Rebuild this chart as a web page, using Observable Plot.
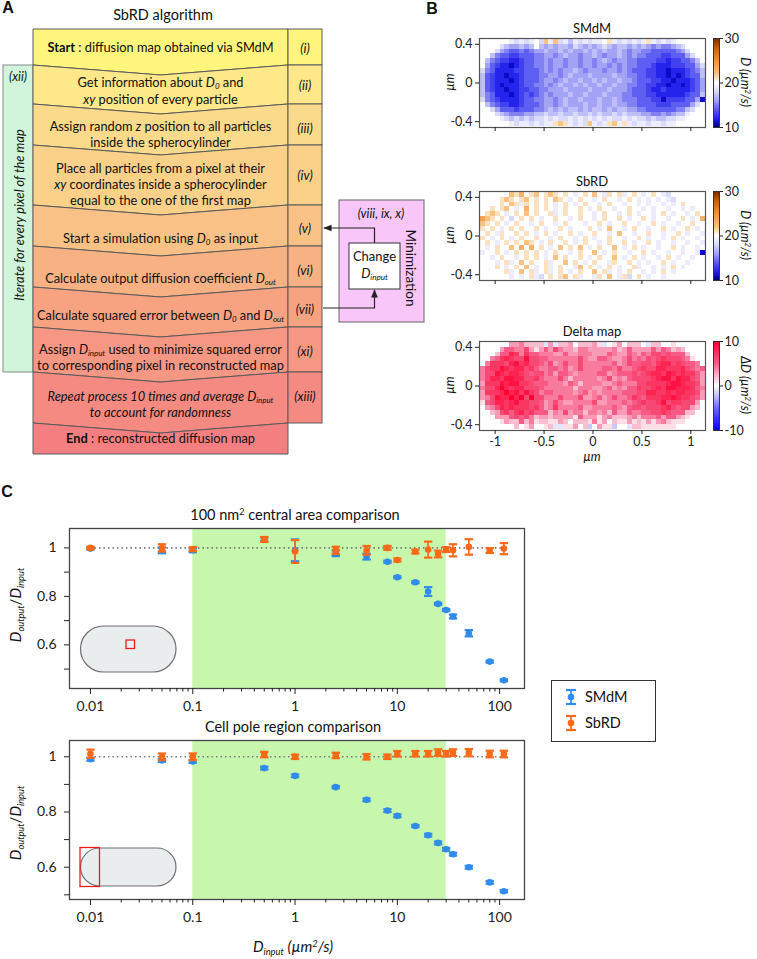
<!DOCTYPE html>
<html><head><meta charset="utf-8">
<script src="https://cdn.jsdelivr.net/npm/d3@7"></script>
<script src="https://cdn.jsdelivr.net/npm/@observablehq/plot@0.6"></script>
<style>
body{margin:0;background:#fff;font-family:Lato,"Open Sans",sans-serif;color:#111}
#page{position:relative;width:757px;height:959px;overflow:hidden;background:#fff}
.abs{position:absolute;white-space:nowrap;line-height:1}
sub{font-size:62%;font-style:italic;vertical-align:-0.35em;line-height:0}
sup{font-size:62%;vertical-align:0.5em;line-height:0}
</style></head><body><div id="page"></div>
<script>
// ---------------- DATA ----------------
// Panel C: input diffusion coefficients (µm²/s)
const dInput = [0.01,0.05,0.1,0.5,1,2.5,5,8,10,15,20,25,30,35,50,80,110];
// 100 nm² central area comparison
const smdmCentral    = [0.997,0.99,0.99,1.035,0.99,0.978,0.964,0.943,0.879,0.858,0.82,0.769,0.744,0.717,0.648,0.531,0.454];
const smdmCentralErr = [0.004,0.012,0.008,0.008,0.045,0.012,0.012,0.004,0.004,0.004,0.018,0.004,0.004,0.008,0.013,0.004,0.004];
const sbrdCentral    = [1.0,1.0,0.995,1.035,0.985,0.99,0.99,1.0,0.95,0.985,0.993,0.975,0.993,0.99,1.004,0.989,0.997];
const sbrdCentralErr = [0.005,0.015,0.008,0.01,0.047,0.015,0.018,0.008,0.006,0.008,0.033,0.014,0.01,0.025,0.032,0.01,0.023];
// Cell pole region comparison
const smdmPole    = [0.991,0.987,0.983,0.959,0.931,0.890,0.844,0.805,0.786,0.749,0.716,0.688,0.665,0.647,0.600,0.545,0.513];
const smdmPoleErr = [0.005,0.005,0.005,0.005,0.005,0.004,0.005,0.005,0.005,0.004,0.005,0.005,0.005,0.005,0.005,0.005,0.004];
const sbrdPole    = [1.011,1.0,1.0,1.008,1.0,1.005,1.0,1.0,1.011,1.011,1.011,1.015,1.011,1.015,1.015,1.01,1.01];
const sbrdPoleErr = [0.015,0.012,0.012,0.01,0.008,0.01,0.01,0.008,0.01,0.01,0.01,0.012,0.01,0.012,0.013,0.012,0.012];
const greenBand = [0.1, 30];
const xTickLabels = [0.01,0.1,1,10,100];
const yTicksC = [0.5,0.6,0.7,0.8,0.9,1];
const yTickLabelsC = [0.6,0.8,1];
const seriesNames = ["SMdM","SbRD"];

// Panel B maps: one char per 0.05 µm pixel, value = base36(char) + 10 µm²/s, "." = outside cell
const smdmMap = [
"...... 98989a8c9c 897989899a b9898989b9 8989 ......",
".... 8766767a76 7677687676 7876776767 65655678 ....",
"... 8654454566 7667676676 7676676566 5544444568 ...",
".. 7544334445 5665676656 6765667656 5544433444 68 ..",
". 7543322344 5565665665 6656765665 5444433233 4457 .",
"a643221234 4556566566 5665665656 5544432223 334468",
"8542222334 4456565667 6566656656 5444332212 223457",
"7432212234 4455665676 6676666766 5544332212 123447",
"7432221234 4456656766 7667676676 6544433221 222346",
"7432122234 4556567667 6766766766 5544332212 212346",
"7432212233 4455666766 6676667666 5444322322 222346",
"7542221234 3456566676 6766676665 5444332222 223447",
"8543222234 4556656766 7666766765 5544433133 334461",
". 7543322344 4566567666 7667667665 5444433344 4468 .",
".. 8644434445 5676767767 6776767766 5544444455 78 ..",
"... 8765556677 8778778778 7877878777 6655656779 ...",
".... 9878787889 8988989898 9898898988 78778899 ....",
"...... 989989899b cb9898c989 bc9b989989 9899 ......"
];
const sbrdMap = [
"...... cbdabcabcb aba9abaca9 bab9aba9ab a98a ......",
".... bcbabcabab acba9abaa9 abaa9aba9a 9a9a98aa ....",
"... abacb9baba ba9aba9aba a9abaa9aa9 a9aa9a9aba ...",
".. babca9adab aba9abaaba 9abaa9aaba a9a9aa9aa9 a9 ..",
". bcba9abaca baab9abaab aa9abaa9ab a9aa9aba9a a9ab .",
"ecbaba8aba ba9aabaa9a baa9abaaba 9aaba9aa9a aba9ad",
"cbaba9abaa 9abaa9abaa a9aaba9aab aa9aaba9aa 9aabaa",
"baba9ababa aba9aaba9a aaba9acaa9 abaa9aaba9 aaba9a",
"aba9baabab a9aba9aaba 9aabaa9aca a9aabaa9aa ba9aa9",
"ba9aba9aba abaa9abaa9 aba9aabaa9 aaba9aa9ab a9aa9a",
"aba9ababac ba9abaaba9 abaa9abaab a9aaba9aa9 aa9aa9",
"a9abaacada daba9acaba ca9abaaca9 aba9aa9aab a9aa9a",
"9aaba9abab aba9abaa9a baaca9abaa 9aaba9aa9a a9aa91",
". a9abaa9aba ba9acabaab a9abaaca9a ba9aa9aba9 aa9a .",
".. a9ab9acaba ab9aacaba9 abaa9baaba 9a9aaba9aa 9a ..",
"... ba9abaca9a b9abaa9cab a9aba9aab9 aa9a9aba9a ...",
".... ab9acab9ab 9aba9abaac ab9a9abaa9 a9aba9aa ....",
"...... 9a9ab98aba bcab9aa9ba ca9b8aba9a a9aa ......"
];
const mapTitles = ["SMdM","SbRD","Delta map"];
const mapYTicks = [-0.4,0,0.4];
const mapXTicks = [-1,-0.5,0,0.5,1];
const dTicks = [10,20,30];
const deltaTicks = [-10,0,10];

// Panel A text
const steps = [
 [[["Start","b"],[" : diffusion map obtained via SMdM",""]]],
 [[["Get information about ",""],["D","i"],["0","s"],[" and",""]],[["xy","i"],[" position of every particle",""]]],
 [[["Assign random ",""],["z","i"],[" position to all particles",""]],[["inside the spherocylinder",""]]],
 [[["Place all particles from a pixel at their",""]],[["xy","i"],[" coordinates inside a spherocylinder",""]],[["equal to the one of the first map",""]]],
 [[["Start a simulation using ",""],["D","i"],["0","s"],[" as input",""]]],
 [[["Calculate output diffusion coefficient ",""],["D","i"],["out","s"]]],
 [[["Calculate squared error between ",""],["D","i"],["0","s"],[" and ",""],["D","i"],["out","s"]]],
 [[["Assign ",""],["D","i"],["input","s"],[" used to minimize squared error",""]],[["to corresponding pixel in reconstructed map",""]]],
 [[["Repeat process 10 times and average ","i"],["D","i"],["input","s"]],[["to account for randomness","i"]]],
 [[["End","b"],[" : reconstructed diffusion map",""]]]
];
const romans = ["(i)","(ii)","(iii)","(iv)","(v)","(vi)","(vii)","(xi)","(xiii)"];

// ---------------- HELPERS ----------------
const page = document.getElementById("page");
const FONT = "Lato, 'Open Sans', sans-serif";
const BLUE = "#2f8ced", ORANGE = "#fd6a17";
function place(el, x, y){ el.style.position="absolute"; el.style.left=x+"px"; el.style.top=y+"px"; page.appendChild(el); return el; }
function label(html, x, y, o={}){
  const d=document.createElement("div"); d.className="abs"; d.innerHTML=html;
  d.style.left=x+"px"; d.style.top=y+"px";
  d.style.transform=`translate(-50%,-50%)`+(o.rot?` rotate(${o.rot}deg)`:"");
  d.style.fontSize=(o.size||13)+"px";
  if(o.italic) d.style.fontStyle="italic";
  if(o.bold) d.style.fontWeight="bold";
  if(o.family) d.style.fontFamily=o.family;
  page.appendChild(d); return d;
}

// ---------------- PANEL A ----------------
const A = d3.select(page).append("svg").attr("width",440).attr("height",470)
  .style("position","absolute").style("left","0px").style("top","0px")
  .attr("font-family",FONT).attr("fill","#111");
const bounds = [29,65,104,145,205,246,287,327,372,423,454];
const fills = ["#fff57c","#fee88a","#fcda8b","#fbd088","#f9c185","#f8b182","#f7a382","#f69783","#f58a82","#f47f81"];
const L=33, R=288, MID=160.5, RC=322, V=10, FS=12.8;
A.append("rect").attr("x",3).attr("y",65).attr("width",30).attr("height",307).attr("fill","#d0f5db").attr("stroke","#8a8a8a");
fills.forEach((f,i)=>{
  const t=bounds[i], b=bounds[i+1], last=i===fills.length-1;
  const pts = i===0 ? [[L,t],[R,t]] : [[L,t],[MID,t+V],[R,t]];
  pts.push([R,b]);
  if(!last) pts.push([MID,b+V]);
  pts.push([L,b]);
  A.append("polygon").attr("points",pts.map(p=>p.join(",")).join(" ")).attr("fill",f).attr("stroke","#5a5a5a").attr("stroke-width",1);
});
romans.forEach((r,i)=>{
  A.append("rect").attr("x",R).attr("y",bounds[i]).attr("width",RC-R).attr("height",bounds[i+1]-bounds[i]).attr("fill",fills[i]).attr("stroke","#5a5a5a");
});
const lineYs = [[47],[82,99],[126,142],[168,184,200],[238],[278],[315],[349,365],[396,412],[438]];
const romanYs = [48,85,128,175,228,270,309,351,396];
function rich(g,x,y,segs,size){
  const t=g.append("text").attr("x",x).attr("y",y).attr("text-anchor","middle").attr("dominant-baseline","central").attr("font-size",size);
  let shifted=false;
  segs.forEach(([s,st])=>{
    const ts=t.append("tspan").text(s);
    if(st==="b") ts.attr("font-weight","bold");
    if(st==="i") ts.attr("font-style","italic");
    if(st==="s"){ ts.attr("font-style","italic").attr("font-size",size*0.62); if(!shifted){ts.attr("dy",3.8); shifted=true;} }
    else if(shifted){ ts.attr("dy",-3.8); shifted=false; }
  });
}
steps.forEach((lines,i)=>lines.forEach((segs,j)=>rich(A,MID,lineYs[i][j],segs,FS)));
romans.forEach((r,i)=>A.append("text").attr("x",305).attr("y",romanYs[i]).attr("text-anchor","middle").attr("dominant-baseline","central").attr("font-size",FS).attr("font-style","italic").text(r));
A.append("text").attr("x",18).attr("y",76).attr("text-anchor","middle").attr("dominant-baseline","central").attr("font-size",12.5).attr("font-style","italic").text("(xii)");
A.append("text").attr("transform","translate(19,215) rotate(-90)").attr("text-anchor","middle").attr("dominant-baseline","central").attr("font-size",FS).attr("font-style","italic").text("Iterate for every pixel of the map");
A.append("rect").attr("x",339).attr("y",200).attr("width",85).attr("height",122).attr("fill","#f8c6f8").attr("stroke","#666");
A.append("text").attr("x",381).attr("y",213).attr("text-anchor","middle").attr("dominant-baseline","central").attr("font-size",12.5).attr("font-style","italic").text("(viii, ix, x)");
A.append("text").attr("transform","translate(411,268) rotate(90)").attr("text-anchor","middle").attr("dominant-baseline","central").attr("font-size",13.5).text("Minimization");
A.append("rect").attr("x",349).attr("y",243).attr("width",51).attr("height",46).attr("fill","#fff").attr("stroke","#333");
A.append("text").attr("x",374.5).attr("y",256).attr("text-anchor","middle").attr("dominant-baseline","central").attr("font-size",13).text("Change");
rich(A,374.5,273,[["D","i"],["input","s"]],13);
const defs=A.append("defs");
defs.append("marker").attr("id","ah").attr("viewBox","0 0 10 10").attr("refX",9).attr("refY",5).attr("markerWidth",7).attr("markerHeight",7).attr("orient","auto")
  .append("path").attr("d","M0,1 L10,5 L0,9 z").attr("fill","#222");
A.append("path").attr("d","M374.5,243 V228 H324").attr("fill","none").attr("stroke","#222").attr("stroke-width",1.2).attr("marker-end","url(#ah)");
A.append("path").attr("d","M323,308 H374.5 V290").attr("fill","none").attr("stroke","#222").attr("stroke-width",1.2).attr("marker-end","url(#ah)");
A.append("text").attr("x",163).attr("y",14).attr("text-anchor","middle").attr("dominant-baseline","central").attr("font-size",14.5).text("SbRD algorithm");

// ---------------- PANEL B ----------------
function parseMap(rows){
  const cells=[];
  rows.forEach((s,r)=>[...s.replace(/ /g,"")].forEach((ch,c)=>{ if(ch!==".") cells.push({r,c,v:parseInt(ch,36)+10}); }));
  return cells;
}
const smdmCells = parseMap(smdmMap), sbrdCells = parseMap(sbrdMap);
const smdmIndex = new Map(smdmCells.map(d=>[d.r+"_"+d.c,d.v]));
const deltaCells = sbrdCells.filter(d=>smdmIndex.has(d.r+"_"+d.c)).map(d=>({r:d.r,c:d.c,v:d.v-smdmIndex.get(d.r+"_"+d.c)}));
const X0=-1.15, Y0=0.45, CS=0.05;
const dColor = {type:"linear", domain:[10,11,12,14,16,18,20,22,25,28,30],
  range:["#00006e","#0c0cc8","#2424ec","#5e5ef2","#a3a3f6","#d9d9fb","#ffffff","#f9c283","#ef9236","#c05a0a","#6b2800"], clamp:true};
const deltaColor = {type:"linear", domain:[-10,-5,-2,0,2,5,10],
  range:["#0000ff","#6a6aff","#c9c9fb","#ffffff","#fbbccf","#f65a85","#ff0030"], clamp:true};
const frameTop = [38,191,341];
function heatmap(cells, color, top, showX){
  const mb = showX ? 24 : 8;
  const svg = Plot.plot({
    width:270, height:2+89+mb, marginLeft:40, marginRight:4, marginTop:2, marginBottom:mb,
    x:{domain:[-1.16,1.15]}, y:{domain:[-0.46,0.46]}, color,
    style:{fontFamily:FONT, fontSize:"12.5px", color:"#222", background:"transparent", overflow:"visible"},
    marks:[
      Plot.rect(cells,{x1:d=>X0+d.c*CS, x2:d=>X0+(d.c+1)*CS, y1:d=>Y0-d.r*CS, y2:d=>Y0-(d.r+1)*CS, fill:"v", shapeRendering:"crispEdges"}),
      Plot.frame({stroke:"#555", strokeWidth:1.2}),
      Plot.axisY({ticks:mapYTicks, tickFormat:d=>String(d), tickSize:4, tickPadding:3, label:null}),
      Plot.axisX({ticks:mapXTicks, tickFormat: showX ? (d=>String(d)) : (()=>""), tickSize:4, tickPadding:3, label:null})
    ]
  });
  place(svg, 439, top-2);
  return mb;
}
function colorbar(color, domain, ticks, top, mb){
  const step=(domain[1]-domain[0])/120;
  const slices=d3.range(0,120).map(i=>({a:domain[0]+i*step, b:domain[0]+(i+1)*step, m:domain[0]+(i+0.5)*step}));
  const svg = Plot.plot({
    width:36, height:2+89+mb, marginLeft:0, marginRight:30, marginTop:2, marginBottom:mb,
    x:{axis:null, domain:[0,1]}, y:{domain}, color,
    style:{fontFamily:FONT, fontSize:"12.5px", color:"#222", background:"transparent", overflow:"visible"},
    marks:[
      Plot.rect(slices,{x1:0, x2:1, y1:"a", y2:"b", fill:"m", shapeRendering:"crispEdges"}),
      Plot.frame({stroke:"#333"}),
      Plot.axisY({anchor:"right", ticks, tickFormat:d=>String(d), tickSize:3, tickPadding:2, label:null})
    ]
  });
  place(svg, 713, top-2);
}
const mb0=heatmap(smdmCells, dColor, frameTop[0], false); colorbar(dColor,[10,30],dTicks,frameTop[0],mb0);
const mb1=heatmap(sbrdCells, dColor, frameTop[1], false); colorbar(dColor,[10,30],dTicks,frameTop[1],mb1);
const mb2=heatmap(deltaCells, deltaColor, frameTop[2], true); colorbar(deltaColor,[-10,10],deltaTicks,frameTop[2],mb2);
mapTitles.forEach((t,i)=>{
  label(t, 592, frameTop[i]-10, {size:13});
  label("µm", 450, frameTop[i]+44, {size:12.5, italic:true, rot:-90});
  label((i===2?"ΔD":"D")+" (µm<sup>2</sup>/s)", 745, frameTop[i]+44, {size:12.5, italic:true, rot:90});
});
label("µm", 592, 457, {size:12.5, italic:true});

// ---------------- PANEL C ----------------
const xMinor = [];
[0.01,0.1,1,10].forEach(p=>{ for(let k=2;k<=9;k++) xMinor.push(+(p*k).toPrecision(3)); });
const capSym = { draw(ctx,size){ const w=Math.sqrt(size/Math.PI); ctx.moveTo(-w,0); ctx.lineTo(w,0); } };
function seriesMarks(vals, errs, color){
  const rows = dInput.map((x,i)=>({x, y:vals[i], lo:vals[i]-errs[i], hi:vals[i]+errs[i]}));
  return [
    Plot.ruleX(rows,{x:"x", y1:"lo", y2:"hi", stroke:color, strokeWidth:1.7}),
    Plot.dot(rows,{x:"x", y:"lo", symbol:capSym, r:4.2, stroke:color, fill:"none", strokeWidth:2.2}),
    Plot.dot(rows,{x:"x", y:"hi", symbol:capSym, r:4.2, stroke:color, fill:"none", strokeWidth:2.2}),
    Plot.dot(rows,{x:"x", y:"y", r:3.3, fill:color, stroke:"none"})
  ];
}
function comparison(frameY, frameH, yDomain, s1, e1, s2, e2){
  const svg = Plot.plot({
    width:534, height:5+frameH+36, marginLeft:69, marginRight:10, marginTop:5, marginBottom:36,
    x:{type:"log", domain:[0.00624,175]}, y:{domain:yDomain},
    style:{fontFamily:FONT, fontSize:"14px", color:"#222", background:"transparent", overflow:"visible"},
    marks:[
      Plot.rect([{a:greenBand[0], b:greenBand[1]}],{x1:"a", x2:"b", fill:"#c7f7ad"}),
      Plot.ruleY([1],{x1:dInput[0], x2:dInput[dInput.length-1], stroke:"#7a7a7a", strokeWidth:1.6, strokeDasharray:"1.5,3"}),
      ...seriesMarks(s1,e1,BLUE),
      ...seriesMarks(s2,e2,ORANGE),
      Plot.frame({stroke:"#444", strokeWidth:1.3}),
      Plot.axisY({ticks:yTicksC, tickFormat:d=>yTickLabelsC.includes(d)?String(d):"", tickSize:5, tickPadding:8, label:null}),
      Plot.axisX({ticks:xTickLabels, tickFormat:d=>String(d), tickSize:6, tickPadding:7, label:null}),
      Plot.axisX({ticks:xMinor, tickFormat:()=>"", tickSize:3.5, label:null})
    ]
  });
  place(svg, 0, frameY-5);
}
comparison(528, 160, [0.42,1.08], smdmCentral, smdmCentralErr, sbrdCentral, sbrdCentralErr);
comparison(740, 159, [0.483,1.059], smdmPole, smdmPoleErr, sbrdPole, sbrdPoleErr);
label("100 nm<sup>2</sup> central area comparison", 295, 515, {size:14.5});
label("Cell pole region comparison", 293, 727, {size:14.5});
const ylab = "<i>D</i><sub>output</sub>/<i>D</i><sub>input</sub>";
label(ylab, 15, 605, {size:15, rot:-90});
label(ylab, 15, 823, {size:15, rot:-90});
label("<i>D</i><sub>input</sub> <i>(µm<sup>2</sup>/s)</i>", 293, 946, {size:15});

// insets
const ov = d3.select(page).append("svg").attr("width",757).attr("height",959).style("position","absolute").style("left","0px").style("top","0px").style("pointer-events","none");
ov.append("rect").attr("x",80.5).attr("y",626).attr("width",95.5).attr("height",46).attr("rx",23).attr("fill","#e9eded").attr("stroke","#6f6f6f").attr("stroke-width",1.2);
ov.append("rect").attr("x",126).attr("y",640).attr("width",8.5).attr("height",8.5).attr("fill","none").attr("stroke","#ee1c1c").attr("stroke-width",1.3);
ov.append("rect").attr("x",80.5).attr("y",848).attr("width",95.5).attr("height",38).attr("rx",19).attr("fill","#e9eded").attr("stroke","#6f6f6f").attr("stroke-width",1.2);
ov.append("rect").attr("x",80).attr("y",847.5).attr("width",19.5).attr("height",39).attr("fill","none").attr("stroke","#ee1c1c").attr("stroke-width",1.3);

// legend
const lg = document.createElement("div");
Object.assign(lg.style,{width:"103px",height:"60px",border:"1.6px solid #333",background:"#fff"});
place(lg, 551, 680);
seriesNames.forEach((n,i)=>{
  const c = i===0?BLUE:ORANGE, y = 16 + i*26;
  const icon = d3.create("svg").attr("width",14).attr("height",20).style("position","absolute").style("left","12px").style("top",(y-10)+"px");
  icon.append("line").attr("x1",7).attr("x2",7).attr("y1",3).attr("y2",17).attr("stroke",c).attr("stroke-width",1.7);
  icon.append("line").attr("x1",2).attr("x2",12).attr("y1",3).attr("y2",3).attr("stroke",c).attr("stroke-width",2.2);
  icon.append("line").attr("x1",2).attr("x2",12).attr("y1",17).attr("y2",17).attr("stroke",c).attr("stroke-width",2.2);
  icon.append("circle").attr("cx",7).attr("cy",10).attr("r",3.3).attr("fill",c);
  lg.appendChild(icon.node());
  const t=document.createElement("div"); t.className="abs"; t.textContent=n;
  Object.assign(t.style,{left:"33px",top:y+"px",transform:"translateY(-50%)",fontSize:"14.5px"});
  lg.appendChild(t);
});

// panel letters
label("A", 8, 8, {size:16, bold:true, family:"'Liberation Sans', Arial, sans-serif"});
label("B", 432, 9, {size:16, bold:true, family:"'Liberation Sans', Arial, sans-serif"});
label("C", 7, 492, {size:16, bold:true, family:"'Liberation Sans', Arial, sans-serif"});
</script></body></html>
